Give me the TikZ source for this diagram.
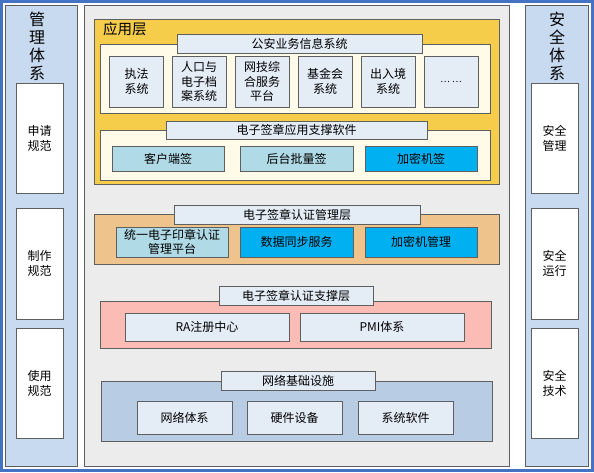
\documentclass[tikz,border=0pt]{standalone}
\usepackage{fontspec}
\setmainfont{Noto Sans CJK SC}
\usetikzlibrary{positioning}
\usepackage{xcolor}
\definecolor{lanbian}{RGB}{68,114,196}
\definecolor{qianlan}{RGB}{200,218,240}
\definecolor{huidi}{RGB}{236,236,236}
\definecolor{jinhuang}{RGB}{245,205,75}
\definecolor{mise}{RGB}{255,251,232}
\definecolor{tuohuang}{RGB}{238,196,140}
\definecolor{fenhong}{RGB}{250,188,180}
\definecolor{huilan}{RGB}{184,204,228}
\definecolor{bailan}{RGB}{228,236,246}
\definecolor{qinglan}{RGB}{176,218,230}
\definecolor{tianlan}{RGB}{0,176,240}
\definecolor{biankuang}{RGB}{95,95,95}
\tikzset{
  kuang/.style={
    draw=biankuang, line width=0.9pt, fill=bailan, align=center,
    inner sep=1pt, font=\fontsize{12}{14.5}\selectfont
  },
  kuangQ/.style={kuang, fill=qinglan},
  kuangT/.style={kuang, fill=tianlan},
  kuangB/.style={kuang, fill=white, font=\fontsize{12}{15}\selectfont},
  ceng/.style={draw=biankuang, line width=0.9pt, inner sep=0pt},
}

\begin{document}
\begin{tikzpicture}[
    x=1pt, y=-1pt,
    lanmu/.style={
        ceng,
        fill=qianlan,
        minimum width=72pt,
        minimum height=461pt
    },
    biaoti/.style={
        align=center,
        font=\fontsize{16}{18}\selectfont
    },
    biaoqian/.style={
        kuang,
        minimum height=19pt
    }
]
\useasboundingbox (0,0) rectangle (594,472);
\draw[lanbian, line width=3pt] (1.5,1.5) rectangle (592.5,470.5);

\node[lanmu] (guanli) at (41,235.5) {};
\node[lanmu, minimum width=63pt] (anquan) at (556.5,235.5) {};
\node[ceng, fill=huidi, minimum width=425pt, minimum height=461pt] (zhuti) at (296.5,235.5) {};

\node[biaoti] (guanliT) at (37,46) {管\\理\\体\\系};
\node[biaoti] (anquanT) at (557,46) {安\\全\\体\\系};

\node[kuangB, minimum width=47pt, minimum height=110pt] (shenqing) at (39.5,138) {申请\\规范};
\node[kuangB, minimum width=47pt, minimum height=111pt] (zhizuo) at (39.5,263.5) {制作\\规范};
\node[kuangB, minimum width=47pt, minimum height=110pt] (shiyong) at (39.5,383) {使用\\规范};

\node[kuangB, minimum width=47pt, minimum height=110pt] (aqguanli) at (554.5,138) {安全\\管理};
\node[kuangB, minimum width=47pt, minimum height=111pt] (aqyunxing) at (554.5,263.5) {安全\\运行};
\node[kuangB, minimum width=47pt, minimum height=110pt] (aqjishu) at (554.5,383) {安全\\技术};

% 应用层
\node[ceng, fill=jinhuang, minimum width=405pt, minimum height=165pt] (yingyong) at (296.5,101.5) {};
\node[anchor=north west, inner sep=0pt, font=\fontsize{14.5}{16}\selectfont] (yingyongT) at (103,22) {应用层};
\node[ceng, fill=mise, minimum width=390pt, minimum height=69pt] (yewu) at (295,78.5) {};
\node[biaoqian, minimum width=245pt] (yewuT) at (299.5,43.5) {公安业务信息系统};
\node[kuang, minimum width=54pt, minimum height=51pt] (zhifa) at (136.5,81.5) {执法\\系统};
\node[kuang, minimum width=54pt, minimum height=51pt] (renkou) at (199,81.5) {人口与\\电子档\\案系统};
\node[kuang, minimum width=54pt, minimum height=51pt] (wangji) at (262,81.5) {网技综\\合服务\\平台};
\node[kuang, minimum width=54pt, minimum height=51pt] (jijin) at (325,81.5) {基金会\\系统};
\node[kuang, minimum width=54pt, minimum height=51pt] (churu) at (388,81.5) {出入境\\系统};
\node[kuang, minimum width=54pt, minimum height=51pt, font=\fontsize{9}{11}\selectfont] (qita) at (451,81.5) {… …};

\node[ceng, fill=mise, minimum width=390pt, minimum height=50pt] (zhicheng) at (295,155) {};
\node[biaoqian, minimum width=261pt, minimum height=18pt] (zhichengT) at (296.5,130) {电子签章应用支撑软件};
\node[kuangQ, minimum width=112pt, minimum height=25pt] (kehu) at (168,158.5) {客户端签};
\node[kuangQ, minimum width=113pt, minimum height=25pt] (houtai) at (296.5,158.5) {后台批量签};
\node[kuangT, minimum width=112pt, minimum height=25pt] (jiami) at (421,158.5) {加密机签};

% 认证管理层
\node[ceng, fill=tuohuang, minimum width=405pt, minimum height=50pt] (renzheng) at (296.5,239) {};
\node[biaoqian, minimum width=246pt] (renzhengT) at (297,214.5) {电子签章认证管理层};
\node[kuangQ, minimum width=112pt, minimum height=30pt, font=\fontsize{12}{13.5}\selectfont] (tongyi) at (172,242) {统一电子印章认证\\管理平台};
\node[kuangT, minimum width=113pt, minimum height=30pt] (tongbu) at (296.5,242) {数据同步服务};
\node[kuangT, minimum width=112pt, minimum height=30pt] (jiamiGL) at (421,242) {加密机管理};

% 认证支撑层
\node[ceng, fill=fenhong, minimum width=391pt, minimum height=47pt] (zhicheng2) at (295.5,324.5) {};
\node[biaoqian, minimum width=154pt] (zhicheng2T) at (296,295.5) {电子签章认证支撑层};
\node[kuang, minimum width=164pt, minimum height=28pt] (ra) at (207,327) {RA注册中心};
\node[kuang, minimum width=164pt, minimum height=28pt] (pmi) at (382,327) {PMI体系};

% 网络基础设施
\node[ceng, fill=huilan, minimum width=391pt, minimum height=60pt] (wangluo) at (296.5,411) {};
\node[biaoqian, minimum width=154pt] (wangluoT) at (298,380.5) {网络基础设施};
\node[kuang, minimum width=95pt, minimum height=33pt] (wltixi) at (184.5,417.5) {网络体系};
\node[kuang, minimum width=95pt, minimum height=33pt] (yingjian) at (294.5,417.5) {硬件设备};
\node[kuang, minimum width=95pt, minimum height=33pt] (ruanjian) at (405.5,417.5) {系统软件};

\end{tikzpicture}
\end{document}
